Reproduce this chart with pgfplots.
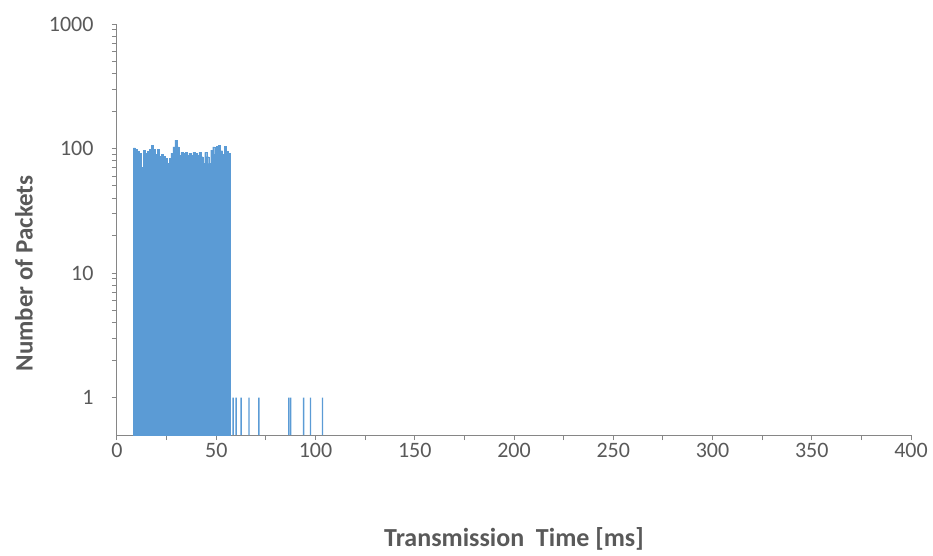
\documentclass[border=0pt]{standalone}
\usepackage{fontspec}
\setmainfont{Carlito}
\usepackage{pgfplots}
\pgfplotsset{compat=1.18}
\definecolor{barblue}{HTML}{5B9BD5}
\definecolor{txtgray}{HTML}{595959}
\definecolor{axgray}{HTML}{868686}
\begin{document}
\begin{tikzpicture}
\begin{axis}[
  scale only axis, width=794bp, height=411bp,
  xmin=0, xmax=400, ymin=0.5, ymax=1000,
  ymode=log, log origin y=infty,
  axis x line=bottom, axis y line=left,
  axis line style={axgray, line width=1bp, -},
  xtick={0,50,...,400}, minor x tick num=1,
  ytick={1,10,100,1000}, yticklabels={1,10,100,1000},
  tick align=outside, major tick length=5bp, minor tick length=5bp,
  every tick/.style={axgray, line width=1bp},
  every minor tick/.style={axgray, line width=1bp},
  /pgf/number format/assume math mode=true,
  tick label style={font=\fontsize{22bp}{24bp}\selectfont, text=txtgray},
  yticklabel style={xshift=-15bp},
  xlabel={Transmission~~Time [ms]},
  ylabel={Number of Packets},
  xlabel style={at={([yshift=-104bp]axis description cs:0.5,0)}, anchor=center,
    font=\bfseries\fontsize{26bp}{30bp}\selectfont, text=txtgray},
  ylabel style={at={([xshift=-93bp]axis description cs:0,0.393)}, anchor=center,
    font=\bfseries\fontsize{25bp}{30bp}\selectfont, text=txtgray},
]
\addplot[ybar, bar width=1, fill=barblue, draw=barblue, line width=0.3bp] coordinates {
(8.7,101) (9.7,99) (10.7,95) (11.7,91) (12.7,71) (13.7,97) (14.7,91) (15.7,95) (16.7,98) (17.7,106)
(18.7,99) (19.7,90) (20.7,99) (21.7,87) (22.7,90) (23.7,87) (24.7,83) (25.7,76) (26.7,83) (27.7,92)
(28.7,103) (29.7,117) (30.7,103) (31.7,88) (32.7,93) (33.7,91) (34.7,93) (35.7,88) (36.7,92) (37.7,88)
(38.7,93) (39.7,92) (40.7,88) (41.7,93) (42.7,86) (43.7,76) (44.7,93) (45.7,86) (46.7,76) (47.7,97)
(48.7,103) (49.7,90) (50.7,104) (51.7,106) (52.7,96) (53.7,90) (54.7,104) (55.7,95) (56.7,92)
};
\addplot[ybar, bar width=0.7, fill=barblue, draw=none] coordinates {
(58.5,1) (60,1) (62.5,1) (66.5,1) (71.5,1) (86.5,1) (87.5,1) (94,1) (97.5,1) (103.5,1)
};
\end{axis}
\pgfresetboundingbox
\path[use as bounding box] ([shift={(-117bp,24bp)}]current axis.north west) rectangle ([shift={(22bp,-120bp)}]current axis.south east);
\end{tikzpicture}
\end{document}
